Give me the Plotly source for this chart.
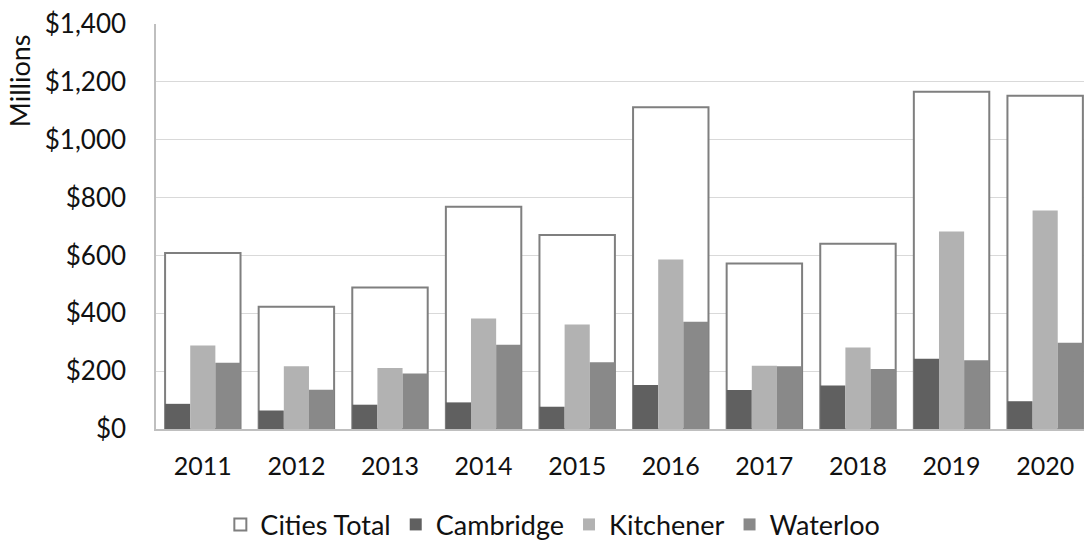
import plotly.graph_objects as go

# Capital spending by city, millions of dollars
years = ["2011", "2012", "2013", "2014", "2015", "2016", "2017", "2018", "2019", "2020"]
cities_total = [608, 423, 489, 768, 671, 1112, 572, 640, 1166, 1152]
cambridge = [87, 64, 84, 92, 77, 152, 135, 150, 243, 96]
kitchener = [289, 217, 211, 382, 361, 586, 219, 282, 683, 755]
waterloo = [229, 136, 192, 291, 231, 371, 217, 207, 238, 298]

y_ticks = [0, 200, 400, 600, 800, 1000, 1200, 1400]
y_tick_labels = ["$0", "$200", "$400", "$600", "$800", "$1,000", "$1,200", "$1,400"]

FONT = "Lato"
TEXT = "#111111"

group_w = 0.806
bar_w = group_w / 3

fig = go.Figure()

# Outline bar for the combined total, spanning the whole group
fig.add_trace(go.Bar(
    x=years, y=cities_total, name="Cities Total",
    width=group_w, offset=-group_w / 2,
    marker=dict(color="white", line=dict(color="#7f7f7f", width=2)),
))

# The three cities side by side inside the total outline
for i, (name, vals, col) in enumerate([
    ("Cambridge", cambridge, "#606060"),
    ("Kitchener", kitchener, "#b2b2b2"),
    ("Waterloo", waterloo, "#898989"),
]):
    fig.add_trace(go.Bar(
        x=years, y=vals, name=name,
        width=bar_w, offset=-group_w / 2 + i * bar_w,
        marker=dict(color=col, line=dict(width=0)),
    ))

fig.update_layout(
    width=1084, height=540,
    barmode="overlay",
    plot_bgcolor="white", paper_bgcolor="white",
    margin=dict(l=156, r=0, t=24, b=111, autoexpand=False),
    font=dict(family=FONT, size=25, color=TEXT),
    hovermode=False,
    showlegend=True,
    legend=dict(
        orientation="h", xref="container", yref="container",
        x=0.51, xanchor="center", y=0.028, yanchor="middle",
        bgcolor="rgba(0,0,0,0)",
        font=dict(family=FONT, size=27, color=TEXT),
        traceorder="normal",
    ),
    xaxis=dict(
        type="category", range=[-0.5, 9.415], automargin=False,
        showline=True, linecolor="#bfbfbf", linewidth=1.5,
        showgrid=False, ticks="", ticklabelstandoff=14,
        tickfont=dict(family=FONT, size=25, color=TEXT),
    ),
    yaxis=dict(
        range=[0, 1400], tickmode="array",
        tickvals=y_ticks, ticktext=y_tick_labels, automargin=False,
        showline=True, linecolor="#bfbfbf", linewidth=1.5,
        showgrid=True, gridcolor="#d9d9d9", gridwidth=1.3,
        zeroline=False, ticks="", ticklabelstandoff=23,
        tickfont=dict(family=FONT, size=26, color=TEXT),
    ),
    annotations=[dict(
        text="Millions", textangle=-90,
        xref="paper", yref="paper", x=-0.147, y=0.98,
        xanchor="center", yanchor="top", showarrow=False,
        font=dict(family=FONT, size=27, color=TEXT),
    )],
)

fig.write_html("out.html")
